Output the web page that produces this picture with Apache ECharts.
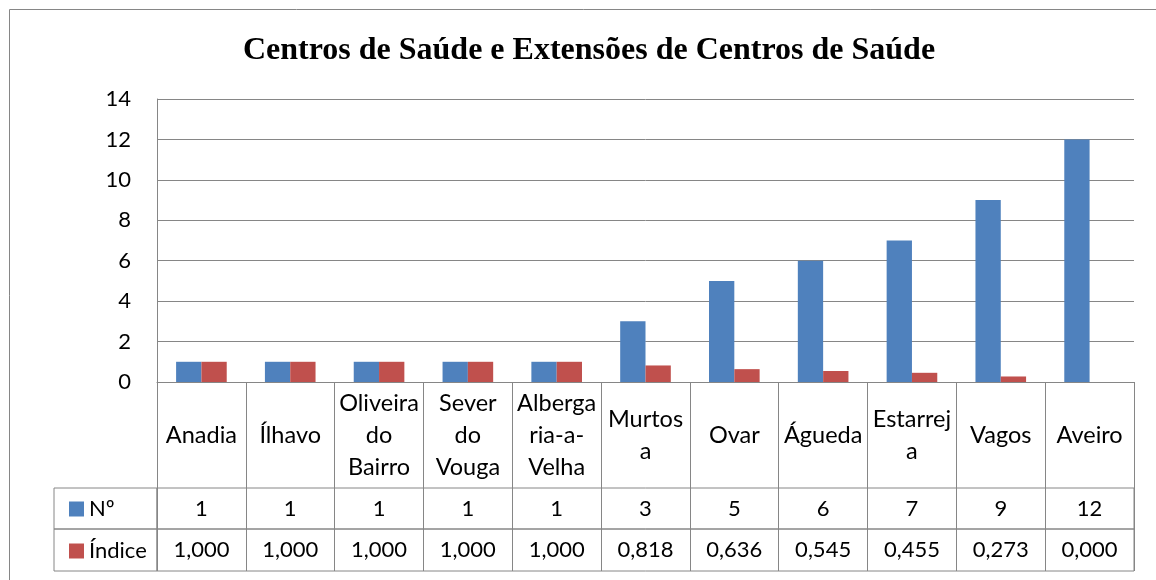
<!DOCTYPE html>
<html>
<head>
<meta charset="utf-8">
<script src="https://cdn.jsdelivr.net/npm/echarts@6/dist/echarts.min.js"></script>
<style>
    html, body { margin: 0; padding: 0; background: #fff; }
    #chart { width: 1156px; height: 580px; }
</style>
</head>
<body>
<div id="chart"></div>
<script>
// categorias (concelhos) e valores
const categories = ['Anadia', 'Ílhavo', 'Oliveira\ndo\nBairro', 'Sever\ndo\nVouga', 'Alberga\nria-a-\nVelha',
    'Murtos\na', 'Ovar', 'Águeda', 'Estarrej\na', 'Vagos', 'Aveiro']
const numValues = [1, 1, 1, 1, 1, 3, 5, 6, 7, 9, 12]
const indiceValues = [1, 1, 1, 1, 1, 0.818, 0.636, 0.545, 0.455, 0.273, 0]
const yTicks = { min: 0, max: 14, interval: 2 }

const gray = '#868686'
const font = 'Lato'

// formata como no Excel (vírgula decimal)
function fmtIndice(v) {
    return v.toFixed(3).replace('.', ',')
}

const chart = echarts.init(document.getElementById('chart'))

const option = {
    animation: false,
    backgroundColor: '#fff',
    color: ['#4F81BD', '#C0504D'],
    title: {
        text: 'Centros de Saúde e Extensões de Centros de Saúde',
        left: 584,
        textAlign: 'center',
        top: 30,
        textStyle: {
            fontFamily: 'Liberation Serif',
            fontWeight: 'bold',
            fontSize: 32,
            color: '#000'
        }
    },
    // moldura exterior
    graphic: [{
        type: 'rect',
        shape: { x: 9.5, y: 9.5, width: 1300, height: 700 },
        style: { fill: null, stroke: gray, lineWidth: 1 },
        silent: true
    }],
    legend: {
        orient: 'vertical',
        left: 64,
        top: 493,
        icon: 'rect',
        itemWidth: 15,
        itemHeight: 15,
        itemGap: 20,
        textStyle: { fontFamily: font, fontSize: 22, color: '#000', lineHeight: 20, verticalAlign: 'middle' },
        data: ['Nº', 'Índice']
    },
    grid: [
        // área do gráfico
        { left: 157, top: 99, width: 977, height: 283 },
        // linha Nº da tabela
        { left: 157, top: 488, width: 977, height: 41, show: true, borderColor: gray, borderWidth: 1 },
        // linha Índice da tabela
        { left: 157, top: 529, width: 977, height: 42, show: true, borderColor: gray, borderWidth: 1 },
        // células da legenda
        { left: 54, top: 488, width: 103, height: 41, show: true, borderColor: gray, borderWidth: 1 },
        { left: 54, top: 529, width: 103, height: 42, show: true, borderColor: gray, borderWidth: 1 }
    ],
    xAxis: [
        {
            type: 'category',
            gridIndex: 0,
            data: categories,
            axisLine: { lineStyle: { color: gray } },
            axisTick: { show: true, interval: 0, length: 189, lineStyle: { color: gray } },
            axisLabel: {
                interval: 0,
                margin: 53,
                verticalAlign: 'middle',
                fontFamily: font,
                fontSize: 23.5,
                lineHeight: 32,
                color: '#000'
            }
        },
        {
            type: 'category',
            gridIndex: 1,
            data: categories,
            axisLine: { show: false },
            axisTick: { show: false },
            axisLabel: {
                inside: true,
                interval: 0,
                margin: 20,
                verticalAlign: 'middle',
                fontFamily: font,
                fontSize: 22,
                color: '#000',
                formatter: (v, i) => String(numValues[i])
            }
        },
        {
            type: 'category',
            gridIndex: 2,
            data: categories,
            axisLine: { show: false },
            axisTick: { show: false },
            axisLabel: {
                inside: true,
                interval: 0,
                margin: 21,
                verticalAlign: 'middle',
                fontFamily: font,
                fontSize: 22,
                color: '#000',
                formatter: (v, i) => fmtIndice(indiceValues[i])
            }
        }
    ],
    yAxis: [
        {
            type: 'value',
            gridIndex: 0,
            min: yTicks.min,
            max: yTicks.max,
            interval: yTicks.interval,
            axisLine: { show: true, lineStyle: { color: gray } },
            axisTick: { show: false },
            axisLabel: { margin: 26, fontFamily: font, fontSize: 22, color: '#000' },
            splitLine: { lineStyle: { color: gray, width: 1 } }
        },
        { type: 'value', gridIndex: 1, show: false, splitLine: { show: false } },
        { type: 'value', gridIndex: 2, show: false, splitLine: { show: false } }
    ],
    series: [
        {
            name: 'Nº',
            type: 'bar',
            xAxisIndex: 0,
            yAxisIndex: 0,
            barGap: 0,
            barCategoryGap: '43%',
            data: numValues
        },
        {
            name: 'Índice',
            type: 'bar',
            xAxisIndex: 0,
            yAxisIndex: 0,
            barGap: 0,
            barCategoryGap: '43%',
            data: indiceValues
        }
    ]
}

chart.setOption(option)
window.addEventListener('resize', () => chart.resize())
</script>
</body>
</html>
